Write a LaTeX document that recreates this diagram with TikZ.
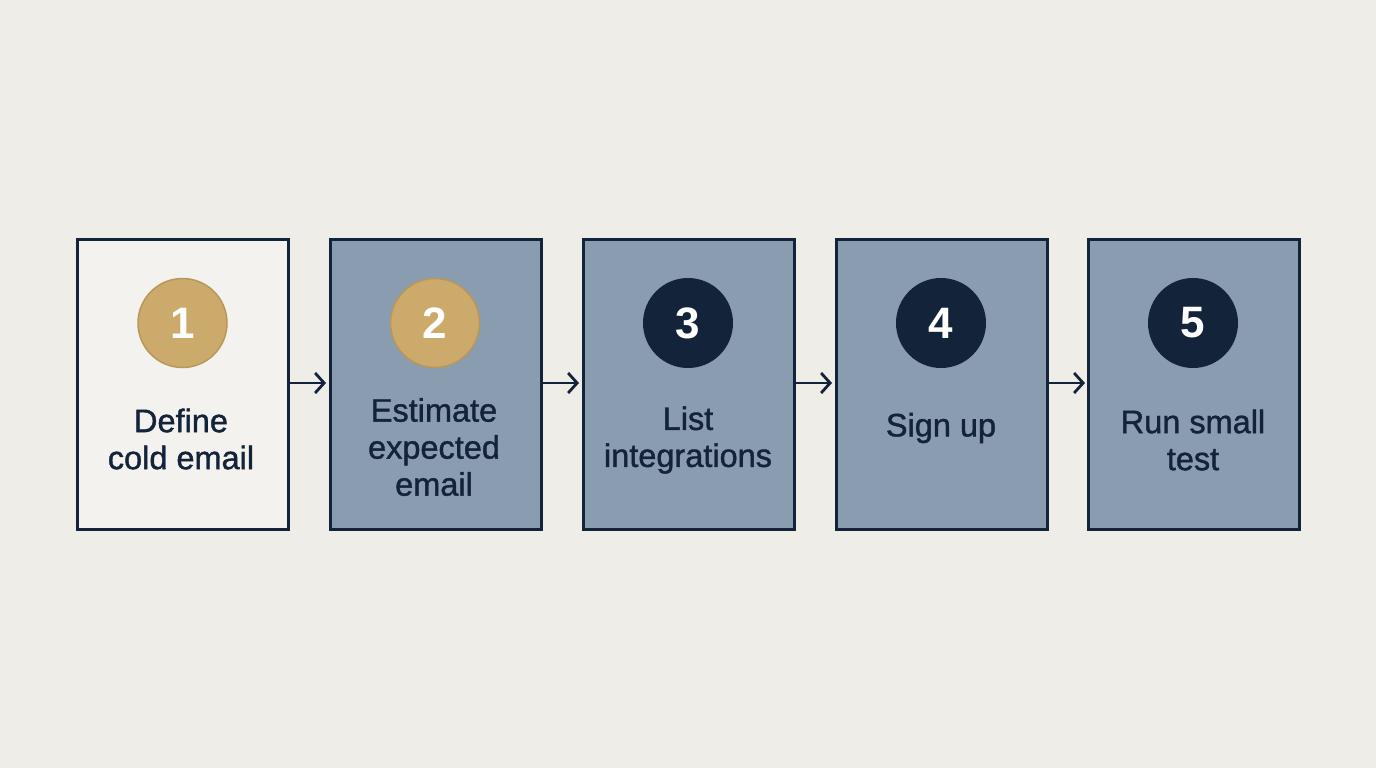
\documentclass[tikz,border=0pt]{standalone}
\usepackage{fontspec}
\setmainfont{Liberation Sans}
\newfontfamily\lblfont[FakeBold=1.2]{Liberation Sans}
\usetikzlibrary{arrows.meta}
\definecolor{bg}{HTML}{EFEDE8}
\definecolor{paper}{HTML}{F4F2EE}
\definecolor{navy}{HTML}{13233A}
\definecolor{slate}{HTML}{8A9CB0}
\definecolor{gold}{HTML}{CBAA6C}
\definecolor{goldedge}{HTML}{B8985A}
\tikzset{
  stepbox/.style={draw=navy, line width=3pt, fill=slate, minimum width=211pt, minimum height=290pt, inner sep=0pt},
  firstbox/.style={stepbox, fill=paper},
  numgold/.style={circle, fill=gold, draw=goldedge, line width=1.5pt, minimum size=89pt, inner sep=0pt, text=white, font=\fontsize{44}{44}\selectfont\bfseries},
  numdark/.style={circle, fill=navy, minimum size=90pt, inner sep=0pt, text=white, font=\fontsize{44}{44}\selectfont\bfseries},
  label/.style={align=center, text=navy, font=\lblfont\fontsize{32.5}{37}\selectfont},
  flow/.style={draw=navy, line width=2.8pt, -{Straight Barb[length=9pt,width=20pt,line width=2.8pt]}}
}
\begin{document}
\begin{tikzpicture}[x=1pt,y=-1pt]
\fill[bg] (0,0) rectangle (1376,768);
\useasboundingbox (0,0) rectangle (1376,768);
\node[firstbox] (b1) at (182.5,384) {};
\node[stepbox] (b2) at (435.5,384) {};
\node[stepbox] (b3) at (688.5,384) {};
\node[stepbox] (b4) at (941.5,384) {};
\node[stepbox] (b5) at (1193.5,384) {};
\node[numgold] (n1) at (182.5,323) {1};
\node[numgold] (n2) at (435,323) {2};
\node[numdark] (n3) at (688,323) {3};
\node[numdark] (n4) at (941,323) {4};
\node[numdark] (n5) at (1193,323) {5};
\node[label] (t1) at (181,439) {Define\\cold email};
\node[label] (t2) at (434,447) {Estimate\\expected\\email};
\node[label] (t3) at (688,440) {List\\integrations};
\node[label] (t4) at (941,428) {Sign up};
\node[label] (t5) at (1193,440) {Run small\\test};
\coordinate (a1) at (326,383);
\coordinate (a2) at (579,383);
\coordinate (a3) at (832,383);
\coordinate (a4) at (1085,383);
\draw[flow] (b1.east |- a1) -- (a1);
\draw[flow] (b2.east |- a2) -- (a2);
\draw[flow] (b3.east |- a3) -- (a3);
\draw[flow] (b4.east |- a4) -- (a4);
\end{tikzpicture}
\end{document}
